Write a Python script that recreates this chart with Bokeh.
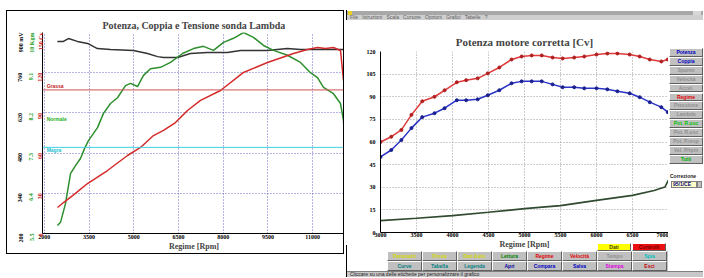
import math
from bokeh.plotting import figure
from bokeh.models import Range1d, LinearAxis, FixedTicker, Span, Label, Div
from bokeh.layouts import row, column
from bokeh.embed import file_html
from bokeh.resources import INLINE

SERIF = "Liberation Serif"

# ---------------- left chart data ----------------
left_title = "Potenza, Coppia e Tensione sonda Lambda"
left_x_ticks = [2000, 3500, 5000, 6500, 8000, 9500, 11000]
cv_ticks = [0, 30, 60, 90, 120, 150]
kgm_ticks = [5.5, 6.4, 7.3, 8.2, 9.1, 10]
mv_ticks = [200, 340, 480, 620, 760, 900]

lambda_rpm = [2440, 2640, 2810, 3110, 3450, 3780, 4220, 4990, 5460, 5800, 6000,
              6470, 6900, 7470, 8140, 8580, 9480, 10150, 10590, 12030]
lambda_mv = [869, 869, 879, 869, 862, 844, 841, 837, 827, 816, 813,
             813, 827, 830, 830, 837, 837, 844, 841, 841]

torque_rpm = [2443, 2544, 2711, 2879, 3046, 3214, 3348, 3482, 3784, 3985, 4220, 4455,
              4723, 4891, 5126, 5327, 5561, 5897, 6232, 6634, 7003, 7338, 7674, 8009,
              8344, 8680, 9015, 9350, 9686, 10155, 10591, 10926, 11161, 11362, 11697,
              11932, 12033, 12066, 12100]
torque_kgm = [5.68, 5.75, 6.17, 6.84, 7.02, 7.18, 7.40, 7.58, 7.87, 8.19, 8.41, 8.54,
              8.81, 8.86, 8.79, 9.04, 9.19, 9.22, 9.33, 9.53, 9.64, 9.69, 9.60, 9.78,
              9.87, 10.00, 9.89, 9.71, 9.60, 9.49, 9.33, 9.10, 8.99, 8.77, 8.63,
              8.41, 8.03, 7.58, 6.64]

power_rpm = [2443, 2644, 3046, 3449, 4120, 4790, 5226, 5662, 5997, 6400, 6802, 7238,
             7909, 8680, 9484, 10356, 10826, 11161, 11429, 11697, 11932, 12033]
power_cv = [19.4, 23.1, 29.9, 37.3, 47.0, 58.2, 64.2, 73.1, 76.9, 82.8, 91.8, 99.3,
            106.7, 120.2, 127.6, 134.3, 137.3, 138.8, 138.1, 138.8, 136.6, 114.2]

lambda_refs = ["Grassa", "Normale", "Magra"]
lambda_ref_mv = [700, 600, 500]
lambda_ref_colors = ["#d05050", None, "#40d0e0"]
lambda_ref_text_colors = ["#c02020", "#20b020", "#20c0d0"]

# ---------------- right chart data ----------------
right_title = "Potenza motore corretta [Cv]"
right_x_ticks = [3000, 3500, 4000, 4500, 5000, 5500, 6000, 6500, 7000]
right_y_ticks = [0, 15, 30, 45, 60, 75, 90, 105, 120]
right_rpm = [3000, 3150, 3290, 3430, 3580, 3750, 3890, 4060, 4190, 4350, 4490, 4650,
             4820, 4960, 5100, 5240, 5390, 5530, 5690, 5830, 6000, 6150, 6290, 6460,
             6600, 6740, 6900, 6990]
power_corr = [60.0, 63.5, 68.0, 78.0, 87.0, 90.0, 94.3, 99.6, 101.0, 102.2, 105.5, 109.4,
              114.7, 116.7, 117.4, 117.4, 116.0, 115.4, 116.0, 116.7, 118.0, 118.7,
              118.7, 118.0, 116.7, 114.7, 113.4, 114.7]
torque_corr = [50.1, 54.7, 61.3, 69.2, 76.5, 79.1, 82.4, 87.7, 87.7, 88.3, 91.0, 94.3,
               98.9, 100.2, 100.2, 100.2, 98.2, 96.3, 96.3, 95.6, 95.6, 94.9, 93.6, 92.3,
               89.7, 86.4, 83.1, 79.8]
loss_rpm = [3000, 3500, 4000, 4500, 5000, 5500, 6000, 6500, 6800, 6950, 7000]
loss_val = [7.9, 9.4, 11.2, 13.4, 15.8, 17.8, 21.3, 24.6, 27.9, 30.1, 34.9]

side_buttons = ["Potenza", "Coppia", "Spunto", "Velocità", "Accel.", "Regime", "Pressione",
                "Lambda", "Pot. R.usc", "Pot. R.usc", "Pot. P.resp", "Vel. P/rpm", "Tutti"]
side_colors = ["#0000c0", "#0000c0", "#909090", "#909090", "#909090", "#e00000", "#909090",
               "#909090", "#00c000", "#909090", "#909090", "#909090", "#00b000"]
bottom_row1 = ["Parametri", "Prova", "Dati Auto", "Lettura", "Regime", "Velocità", "Tempo", "Spia"]
bottom_row1_colors = ["#d8d800", "#d8d800", "#d8d800", "#008000", "#e00000", "#e00000", "#909090", "#00c0c0"]
bottom_row2 = ["Curve", "Tabella", "Legenda", "Apri", "Compara", "Salva", "Stampa", "Esci"]
bottom_row2_colors = ["#008080", "#008080", "#008080", "#0000a0", "#0000c0", "#0000c0", "#e000e0", "#c00000"]
top_buttons = ["Dati", "Controlli"]
top_button_bg = ["#ffff00", "#ee1010"]
top_button_text = ["#404000", "#700000"]
menu_items = ["File", "Istruzioni", "Scala", "Cursore", "Opzioni", "Grafici", "Tabelle", "?"]
correction_label = "Correzione"
correction_value = "95/1/CE"
status_text = "Cliccare su una delle etichette per personalizzare il grafico"


def style_axis(ax, color, size="6px"):
    ax.major_label_text_font = SERIF
    ax.major_label_text_font_style = "bold"
    ax.major_label_text_font_size = size
    ax.major_label_text_color = color
    ax.major_tick_line_color = None
    ax.minor_tick_line_color = None
    ax.major_tick_out = 0
    ax.major_tick_in = 0
    ax.minor_tick_out = 0
    ax.minor_tick_in = 0
    ax.axis_label_standoff = 0


# ================= LEFT FIGURE =================
pl = figure(width=338, height=244, x_range=Range1d(1940, 12100), y_range=Range1d(0, 150),
            output_backend="svg", toolbar_location=None, title=left_title,
            min_border_left=35, min_border_right=0, min_border_top=21, min_border_bottom=22,
            styles={"border": "1px solid #000"})
pl.outline_line_color = None
pl.title.align = "center"
pl.title.text_font = SERIF
pl.title.text_font_size = "10px"
pl.title.text_font_style = "bold"
pl.title.standoff = 3

pl.xaxis.ticker = FixedTicker(ticks=left_x_ticks)
style_axis(pl.xaxis[0], "#000")
pl.xaxis.axis_line_color = "#000"
pl.xaxis.axis_label = "Regime [Rpm]"
pl.xaxis.axis_label_text_font = SERIF
pl.xaxis.axis_label_text_font_size = "8px"
pl.xaxis.axis_label_text_font_style = "bold"
pl.xaxis.axis_label_standoff = 0
pl.xaxis.major_label_standoff = 1

ax_cv = pl.yaxis[0]
ax_cv.ticker = FixedTicker(ticks=cv_ticks)
ax_cv.major_label_overrides = {150: "150 Cv"}
ax_cv.major_label_orientation = math.pi / 2
style_axis(ax_cv, "#c82020")
ax_cv.major_label_standoff = 2
ax_cv.axis_line_color = "#000"

pl.extra_y_ranges = {"kgm": Range1d(5.5, 10), "mv": Range1d(200, 900)}
ax_kgm = LinearAxis(y_range_name="kgm", ticker=FixedTicker(ticks=kgm_ticks),
                    major_label_overrides={10: "10 Kgm"})
ax_kgm.major_label_orientation = math.pi / 2
style_axis(ax_kgm, "#20a020")
ax_kgm.major_label_standoff = 0
ax_kgm.axis_line_color = None
pl.add_layout(ax_kgm, "left")
ax_mv = LinearAxis(y_range_name="mv", ticker=FixedTicker(ticks=mv_ticks),
                   major_label_overrides={900: "900 mV"})
ax_mv.major_label_orientation = math.pi / 2
style_axis(ax_mv, "#000")
ax_mv.major_label_standoff = 2
ax_mv.axis_line_color = None
pl.add_layout(ax_mv, "left")

for g in (pl.xgrid[0], pl.ygrid[0]):
    g.grid_line_color = "#6a6ac8"
    g.grid_line_dash = "1 2"
    g.grid_line_width = 1
pl.xgrid.ticker = FixedTicker(ticks=left_x_ticks)
pl.ygrid.ticker = FixedTicker(ticks=cv_ticks)

for name, mv, lc, tc in zip(lambda_refs, lambda_ref_mv, lambda_ref_colors, lambda_ref_text_colors):
    if lc is not None:
        pl.add_layout(Span(location=mv, dimension="width", y_range_name="mv",
                           line_color=lc, line_width=1))
    pl.add_layout(Label(x=2080, y=mv, y_range_name="mv", text=name, text_color=tc,
                        text_font_size="5px", text_font_style="bold", text_font="Liberation Sans",
                        text_baseline="bottom" if name == "Grassa" else ("top" if name == "Magra" else "middle"),
                        y_offset=1 if name == "Grassa" else 0))

pl.line(lambda_rpm, lambda_mv, y_range_name="mv", line_color="#333333", line_width=1.5)
pl.line(torque_rpm, torque_kgm, y_range_name="kgm", line_color="#2e8f2e", line_width=1.5)
pl.line(power_rpm, power_cv, line_color="#d42a2a", line_width=1.5)

# ================= RIGHT FIGURE =================
pr = figure(width=322, height=231, x_range=Range1d(3000, 7000), y_range=Range1d(0, 120),
            output_backend="svg", toolbar_location=None, title=right_title,
            min_border_left=34, min_border_right=0, min_border_top=31, min_border_bottom=18)
pr.outline_line_color = None
pr.title.align = "center"
pr.title.text_font = SERIF
pr.title.text_font_size = "11px"
pr.title.text_font_style = "bold"
pr.title.standoff = 8

pr.xaxis.ticker = FixedTicker(ticks=right_x_ticks)
pr.yaxis.ticker = FixedTicker(ticks=right_y_ticks)
style_axis(pr.xaxis[0], "#000")
style_axis(pr.yaxis[0], "#000")
pr.xaxis.major_label_standoff = 0
pr.yaxis.major_label_standoff = 5
pr.axis.axis_line_color = "#000"
pr.xaxis.axis_label = "Regime [Rpm]"
pr.xaxis.axis_label_text_font = SERIF
pr.xaxis.axis_label_text_font_size = "8px"
pr.xaxis.axis_label_text_font_style = "bold"
pr.xaxis.axis_label_standoff = 0
for g in (pr.xgrid[0], pr.ygrid[0]):
    g.grid_line_color = "#9a9a9a"
    g.grid_line_dash = "1 2"
pr.xgrid.ticker = FixedTicker(ticks=right_x_ticks)
pr.ygrid.ticker = FixedTicker(ticks=right_y_ticks)

pr.line(loss_rpm, loss_val, line_color="#2f4a2f", line_width=1.6)
pr.line(right_rpm, power_corr, line_color="#e03a3a", line_width=1.5)
pr.scatter(right_rpm, power_corr, size=3, color="#b02020")
pr.line(right_rpm, torque_corr, line_color="#2a35c8", line_width=1.5)
pr.scatter(right_rpm, torque_corr, size=3, color="#1a2090")

# ================= WINDOW CHROME (HTML) =================
DIV_STYLES = {"display": "block", "overflow": "visible", "font-size": "0px", "line-height": "0px"}
BTN = ("position:absolute;left:{l}px;top:{t}px;width:{w}px;height:{h}px;box-sizing:border-box;"
       "background:{bg};border-top:1px solid #fff;border-left:1px solid #fff;"
       "border-right:1px solid #606060;border-bottom:1px solid #606060;color:{c};"
       "font:bold 5px Arial,sans-serif;line-height:{lh}px;text-align:center;overflow:hidden;white-space:nowrap;")

side_html = '<div style="position:relative;width:35px;height:231px;background:#fff;">'
for i, (lbl, col) in enumerate(zip(side_buttons, side_colors)):
    side_html += f'<div style="{BTN.format(l=1, t=round(28 + i * 8.9, 1), w=34, h=8.9, c=col, lh=6.9, bg="#c0c0c0")}">{lbl}</div>'
side_html += ('<div style="position:absolute;left:2px;top:153px;font:bold 5px Arial,sans-serif;'
              f'line-height:6px;color:#202020;">{correction_label}</div>')
side_html += ('<div style="position:absolute;left:3px;top:161px;width:26px;height:7px;box-sizing:border-box;'
              'background:#ffffc8;border:1px solid #808080;font:bold 5px Arial,sans-serif;color:#000080;'
              f'line-height:5px;padding-left:1px;">{correction_value}</div>')
side_html += ('<div style="position:absolute;left:29px;top:161px;width:5px;height:7px;box-sizing:border-box;'
              'background:#c0c0c0;border:1px solid #808080;"></div>')
side_html += '</div>'
side_div = Div(text=side_html, width=35, height=231, margin=0, styles=DIV_STYLES)

# bottom strip: button rows + status bar, Dati/Controlli sit just above it
bottom_html = '<div style="position:relative;width:357px;height:26px;background:#fff;">'
bottom_html += '<div style="position:absolute;left:0;top:-6px;width:1px;height:32px;background:#000;"></div>'
for i, (lbl, bg, tc) in enumerate(zip(top_buttons, top_button_bg, top_button_text)):
    bottom_html += f'<div style="{BTN.format(l=251 + i * 35, t=-8, w=34, h=8, c=tc, lh=6, bg=bg)}">{lbl}</div>'
bottom_html += '<div style="position:absolute;left:41px;top:0;width:281px;height:20px;background:#c0c0c0;"></div>'
for r, (labels, cols) in enumerate(((bottom_row1, bottom_row1_colors), (bottom_row2, bottom_row2_colors))):
    for i, (lbl, col) in enumerate(zip(labels, cols)):
        bottom_html += f'<div style="{BTN.format(l=41 + i * 35, t=r * 10, w=35, h=10, c=col, lh=8, bg="#c0c0c0")}">{lbl}</div>'
bottom_html += ('<div style="position:absolute;left:1px;top:20px;width:356px;height:6px;box-sizing:border-box;'
                'background:#c8c8c8;border-top:1px solid #808080;font:5px Arial,sans-serif;color:#202020;'
                f'line-height:5px;padding-left:3px;overflow:hidden;white-space:nowrap;">{status_text}</div>')
bottom_html += '</div>'
bottom_div = Div(text=bottom_html, width=357, height=26, margin=0, styles=DIV_STYLES)

top_html = ('<div style="position:relative;width:357px;height:20px;background:#fff;">'
            '<div style="position:absolute;left:0;top:10px;width:1px;height:10px;background:#000;"></div>'
            '<div style="position:absolute;left:1px;top:11px;width:356px;height:4px;background:#a8a8a8;"></div>'
            '<div style="position:absolute;left:2px;top:11px;width:4px;height:4px;background:#e8d020;"></div>'
            '<div style="position:absolute;right:2px;top:11px;width:8px;height:4px;background:#d8d8d8;"></div>'
            '<div style="position:absolute;left:1px;top:15px;width:356px;height:5px;background:#cfcfcf;'
            'font:5px Arial,sans-serif;color:#606060;line-height:5px;padding-left:3px;box-sizing:border-box;'
            'white-space:nowrap;overflow:hidden;">' + "&nbsp;&nbsp;&nbsp;".join(menu_items) + '</div>'
            '</div>')
top_div = Div(text=top_html, width=357, height=20, margin=0, styles=DIV_STYLES)

left_panel = column(Div(text="", width=340, height=10, margin=0, styles=DIV_STYLES), pl)
right_panel = column(top_div, row(pr, side_div), bottom_div)
layout = row(Div(text="", width=6, height=10, margin=0, styles=DIV_STYLES), left_panel, right_panel)

open("out.html", "w").write(file_html(layout, INLINE))
